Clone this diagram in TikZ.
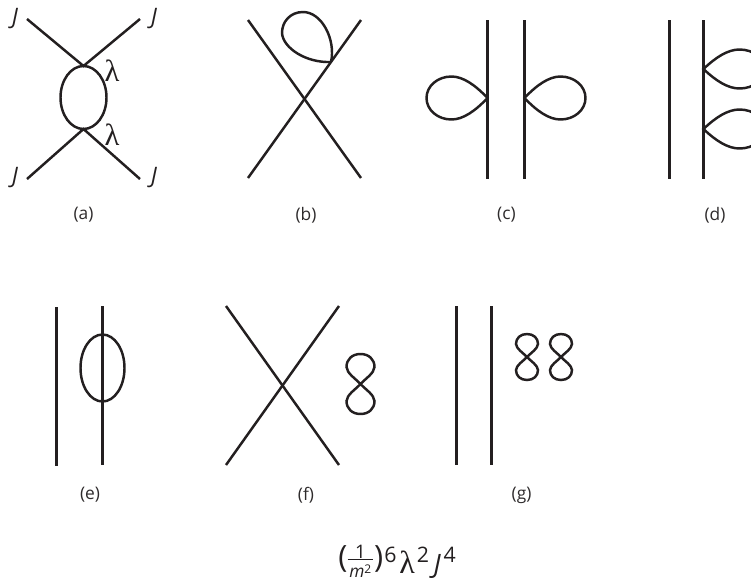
\documentclass[tikz,border=0pt]{standalone}
\usepackage{fontspec}
\setmainfont{Open Sans}
\newfontfamily\lamfont{Liberation Serif}
\definecolor{ink}{HTML}{231F20}
\definecolor{lab}{HTML}{2E2B2C}
\newcommand{\droplet}[5]{% tip x,y ; direction (+1/-1) ; half height ; length
  \draw[fey] (#1,#2) .. controls ({#1+#3*0.2*#5},{#2-0.6*#4}) and ({#1+#3*0.4*#5},{#2-#4}) .. ({#1+#3*0.59*#5},{#2-#4})
   .. controls ({#1+#3*0.82*#5},{#2-#4}) and ({#1+#3*#5},{#2-0.55*#4}) .. ({#1+#3*#5},#2)
   .. controls ({#1+#3*#5},{#2+0.55*#4}) and ({#1+#3*0.82*#5},{#2+#4}) .. ({#1+#3*0.59*#5},{#2+#4})
   .. controls ({#1+#3*0.4*#5},{#2+#4}) and ({#1+#3*0.2*#5},{#2+0.6*#4}) .. cycle;}
\newcommand{\eight}[4]{% centre x,y ; half width ; half height
  \draw[fey] (#1,#2) .. controls ({#1+0.38*#3},{#2-0.19*#4}) and ({#1+0.98*#3},{#2-0.36*#4}) .. ({#1+#3},{#2-0.57*#4})
   .. controls ({#1+#3},{#2-0.82*#4}) and ({#1+0.6*#3},{#2-#4}) .. (#1,{#2-#4})
   .. controls ({#1-0.6*#3},{#2-#4}) and ({#1-#3},{#2-0.82*#4}) .. ({#1-#3},{#2-0.57*#4})
   .. controls ({#1-0.98*#3},{#2-0.36*#4}) and ({#1-0.38*#3},{#2-0.19*#4}) .. (#1,#2)
   .. controls ({#1+0.38*#3},{#2+0.19*#4}) and ({#1+0.98*#3},{#2+0.36*#4}) .. ({#1+#3},{#2+0.57*#4})
   .. controls ({#1+#3},{#2+0.82*#4}) and ({#1+0.6*#3},{#2+#4}) .. (#1,{#2+#4})
   .. controls ({#1-0.6*#3},{#2+#4}) and ({#1-#3},{#2+0.82*#4}) .. ({#1-#3},{#2+0.57*#4})
   .. controls ({#1-0.98*#3},{#2+0.36*#4}) and ({#1-0.38*#3},{#2+0.19*#4}) .. (#1,#2);}
\newcommand{\fs}[1]{\fontsize{#1}{#1}\selectfont}
\newcommand{\fracbox}{\hbox to 19pt{%
  \rlap{\raisebox{11.25pt}{\hbox to 19pt{\hss\fs{14}1\hss}}}%
  \rlap{\raisebox{9.75pt}{\rule{19pt}{0.7pt}}}%
  \raisebox{-3pt}{\hbox to 19pt{\hss\fs{13}\textit{m}\raisebox{3pt}{\fs{9}2}\hss}}}}
\tikzset{
  fey/.style={draw=ink,line width=1.85pt},
  caption/.style={text=lab,font=\fontsize{13}{15}\selectfont,inner sep=0pt},
  jlab/.style={text=ink,font=\fontsize{17}{19}\selectfont\itshape,inner sep=0pt},
  lamlab/.style={text=ink,font=\fontsize{23}{25}\selectfont\lamfont,inner sep=0pt},
}
\begin{document}
\begin{tikzpicture}[x=0.75pt,y=-0.75pt]
\useasboundingbox (0,0) rectangle (751,583);
\clip (0,0) rectangle (751,583);
% (a)
\coordinate (a1) at (27,19); \coordinate (a2) at (140,19);
\coordinate (a3) at (27,179); \coordinate (a4) at (140,179);
\coordinate (av) at (83.5,66); \coordinate (aw) at (83.5,129);
\draw[fey] (a1) -- (av) -- (a2);
\draw[fey] (a3) -- (aw) -- (a4);
\draw[fey] (83.5,97.5) ellipse [x radius=23, y radius=31.5];
\node[jlab] (j1) at (15,19) {J};
\node[jlab] (j2) at (154,19) {J};
\node[jlab] (j3) at (15,178) {J};
\node[jlab] (j4) at (154,178) {J};
\node[lamlab] (l1) at (112,71) {λ};
\node[lamlab] (l2) at (112,135) {λ};
\node[caption] (ca) at (83.5,215) {(a)};
% (b)
\coordinate (b1) at (248,20); \coordinate (b2) at (361,178);
\coordinate (b3) at (361,20); \coordinate (b4) at (248,178);
\draw[fey] (b1) -- (b2);
\draw[fey] (b3) -- (b4);
\draw[fey] (331,62) .. controls (336,40) and (322,12) .. (303,12)
  .. controls (290,12) and (282,22) .. (282,33)
  .. controls (283,48) and (306,63) .. (331,62);
\node[caption] (cb) at (306,215) {(b)};
% (c)
\coordinate (c1) at (487.5,20); \coordinate (c2) at (487.5,179);
\coordinate (c3) at (524.5,20); \coordinate (c4) at (524.5,179);
\draw[fey] (c1) -- (c2);
\draw[fey] (c3) -- (c4);
\droplet{487.5}{98}{-1}{21.5}{61}
\droplet{524.5}{98}{1}{21.5}{61}
\node[caption] (cc) at (506.5,215) {(c)};
% (d)
\coordinate (d1) at (669.5,20); \coordinate (d2) at (669.5,179);
\coordinate (d3) at (703.5,20); \coordinate (d4) at (703.5,179);
\draw[fey] (d1) -- (d2);
\draw[fey] (d3) -- (d4);
\droplet{703.5}{69}{1}{19.5}{61}
\droplet{703.5}{129}{1}{19.5}{61}
\node[caption] (cd) at (715,215) {(d)};
% (e)
\coordinate (e1) at (56.5,307); \coordinate (e2) at (56.5,466);
\coordinate (e3) at (102.5,306); \coordinate (e4) at (102.5,465);
\draw[fey] (e1) -- (e2);
\draw[fey] (e3) -- (e4);
\draw[fey] (102.5,368) ellipse [x radius=22, y radius=33.5];
\node[caption] (ce) at (90,495) {(e)};
% (f)
\coordinate (f1) at (226,306); \coordinate (f2) at (339,465);
\coordinate (f3) at (339,306); \coordinate (f4) at (226,465);
\draw[fey] (f1) -- (f2);
\draw[fey] (f3) -- (f4);
\eight{360.5}{384}{14}{30}
\node[caption] (cf) at (306,495) {(f)};
% (g)
\coordinate (g1) at (456.5,306); \coordinate (g2) at (456.5,465);
\coordinate (g3) at (491.5,306); \coordinate (g4) at (491.5,465);
\draw[fey] (g1) -- (g2);
\draw[fey] (g3) -- (g4);
\eight{527}{357}{11}{23}
\eight{561}{357}{11}{23}
\node[caption] (cg) at (521.5,495) {(g)};
% formula
\node[text=ink,inner sep=0pt,anchor=base west,font=\fs{15}] (fm) at (338,573)
 {\raisebox{4pt}{\fs{23}(}\kern0.25pt\fracbox\kern0.75pt\raisebox{4pt}{\fs{23})}\kern1pt\raisebox{8.25pt}{\fs{16}6}\kern2pt{\fs{24}\lamfont λ}\kern1.5pt\raisebox{8.25pt}{\fs{16}2}\kern3.5pt{\fs{20}\textit{J}}\kern2pt\raisebox{8.25pt}{\fs{16}4}};
\end{tikzpicture}
\end{document}
